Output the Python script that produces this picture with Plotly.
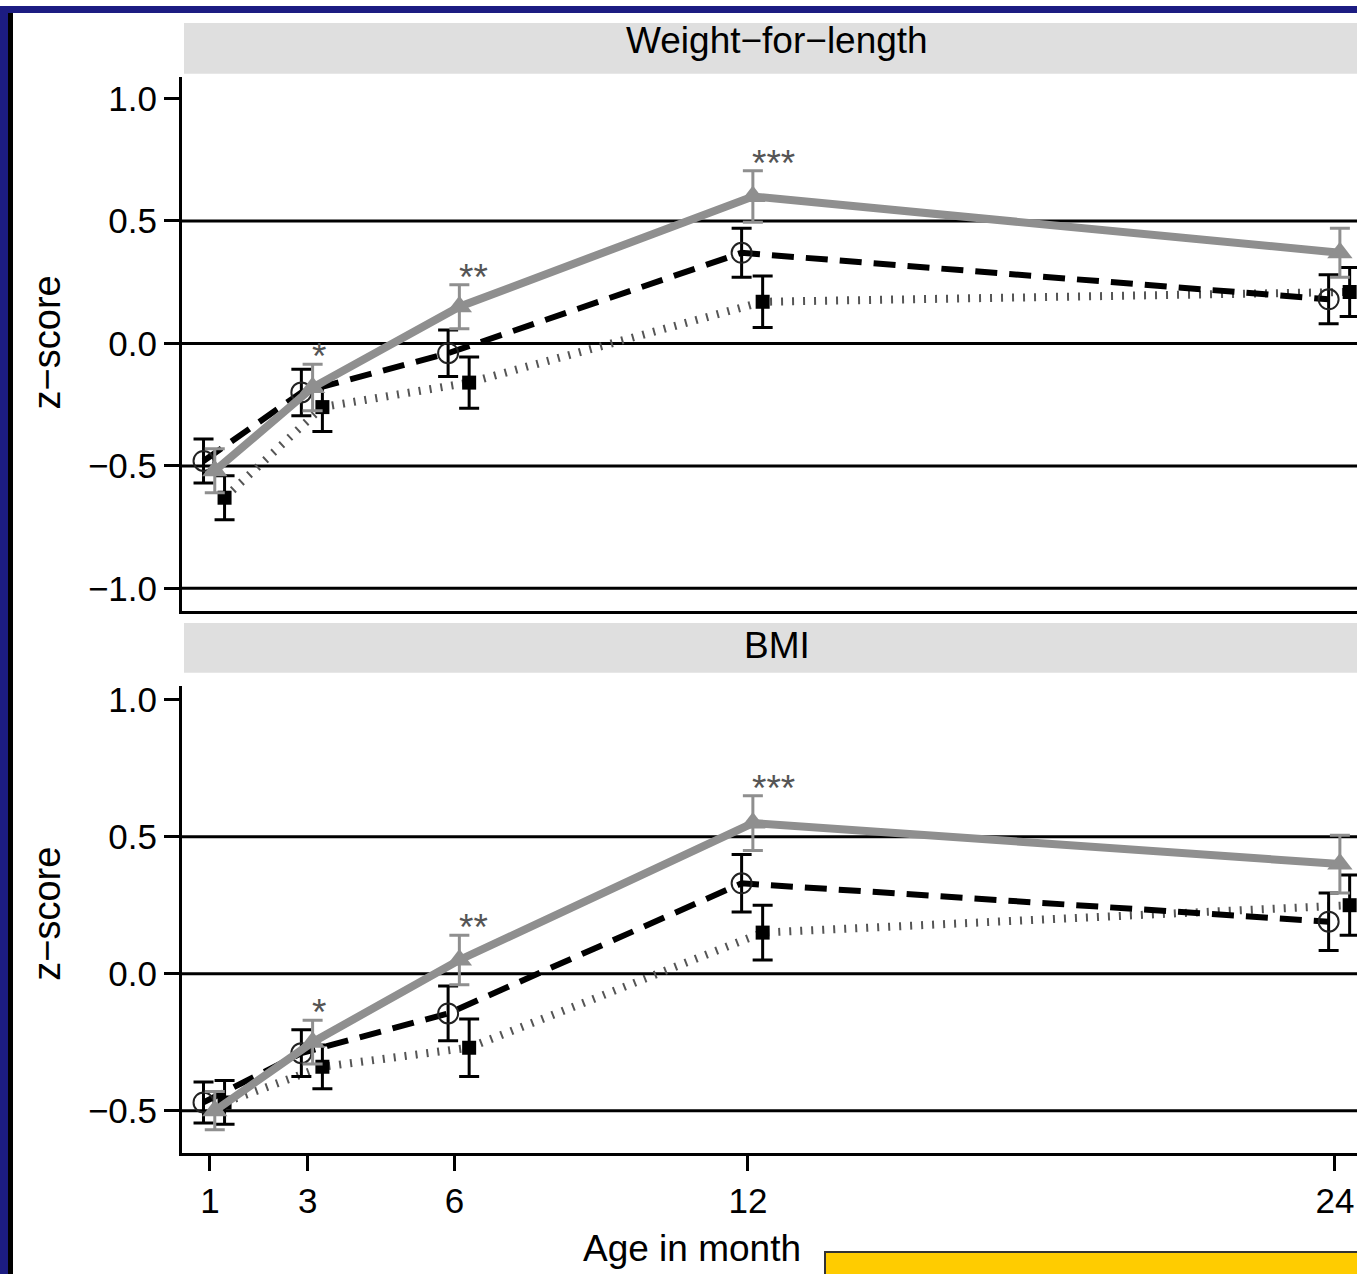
import plotly.graph_objects as go

W, H = 1357, 1274

# ---------------- data ----------------
ages = [1, 3, 6, 12, 24]
age_ticks = [1, 3, 6, 12, 24]

# Weight-for-length panel
wfl_a_mean = [-0.48, -0.20, -0.04, 0.37, 0.18]
wfl_a_se = [0.09, 0.095, 0.095, 0.10, 0.10]
wfl_b_mean = [-0.63, -0.26, -0.16, 0.17, 0.21]
wfl_b_se = [0.09, 0.10, 0.105, 0.105, 0.10]
wfl_c_mean = [-0.52, -0.18, 0.15, 0.60, 0.37]
wfl_c_se = [0.09, 0.095, 0.09, 0.105, 0.10]
wfl_stars = ["", "*", "**", "***", ""]

# BMI panel
bmi_a_mean = [-0.47, -0.29, -0.145, 0.33, 0.19]
bmi_a_se = [0.075, 0.085, 0.10, 0.105, 0.105]
bmi_b_mean = [-0.47, -0.34, -0.27, 0.15, 0.25]
bmi_b_se = [0.08, 0.08, 0.105, 0.10, 0.11]
bmi_c_mean = [-0.50, -0.25, 0.05, 0.55, 0.40]
bmi_c_se = [0.07, 0.08, 0.09, 0.10, 0.105]
bmi_stars = ["", "*", "**", "***", ""]

panel_titles = ["Weight\u2212for\u2212length", "BMI"]
wfl_yticks = [1.0, 0.5, 0.0, -0.5, -1.0]
bmi_yticks = [1.0, 0.5, 0.0, -0.5]
wfl_reflines = [0.5, 0.0, -0.5, -1.0]
bmi_reflines = [0.5, 0.0, -0.5]

# ---------------- style ----------------
FONT = "Liberation Sans, Arial, Helvetica, sans-serif"
OFF_A, OFF_B, OFF_C = -0.13, 0.30, 0.10
GRAY = "#8f8f8f"


def px(x):
    return x / W


def py(y):
    return 1 - y / H


fig = go.Figure()


def add_panel(a_m, a_se, b_m, b_se, c_m, c_se, stars, xa, ya):
    # dotted series (filled squares)
    fig.add_trace(go.Scatter(
        x=[a + OFF_B for a in ages], y=b_m, xaxis=xa, yaxis=ya,
        mode="lines+markers",
        line=dict(color="#555555", width=8, dash="2px,9px"),
        marker=dict(symbol="square", size=14, color="black"),
        error_y=dict(type="data", array=b_se, visible=True, color="black",
                     thickness=3, width=10),
        showlegend=False))
    # dashed series (open circles)
    fig.add_trace(go.Scatter(
        x=[a + OFF_A for a in ages], y=a_m, xaxis=xa, yaxis=ya,
        mode="lines+markers",
        line=dict(color="black", width=6, dash="22px,12px"),
        marker=dict(symbol="circle-open", size=20, color="#222222",
                    line=dict(width=2)),
        error_y=dict(type="data", array=a_se, visible=True, color="black",
                     thickness=3, width=10),
        showlegend=False))
    # solid gray series (triangles)
    fig.add_trace(go.Scatter(
        x=[a + OFF_C for a in ages], y=c_m, xaxis=xa, yaxis=ya,
        mode="lines+markers",
        line=dict(color=GRAY, width=8),
        marker=dict(symbol="triangle-up", size=22, color=GRAY),
        error_y=dict(type="data", array=c_se, visible=True, color=GRAY,
                     thickness=3, width=10),
        showlegend=False))
    for a, m, s, st in zip(ages, c_m, c_se, stars):
        if st:
            fig.add_annotation(
                x=a + OFF_C - 0.05, y=m + s, xref=xa, yref=ya,
                text=st, showarrow=False, xanchor="left", yanchor="bottom",
                yshift=-15,
                font=dict(family=FONT, size=37, color="#555555"))


add_panel(wfl_a_mean, wfl_a_se, wfl_b_mean, wfl_b_se, wfl_c_mean, wfl_c_se,
          wfl_stars, "x", "y")
add_panel(bmi_a_mean, bmi_a_se, bmi_b_mean, bmi_b_se, bmi_c_mean, bmi_c_se,
          bmi_stars, "x2", "y2")

xdom = [px(182), 1.0]
xrange = [0.43, 24.45]
axis_common = dict(showgrid=False, zeroline=False, showline=True,
                   linecolor="black", linewidth=3)

fig.update_layout(
    width=W, height=H,
    margin=dict(l=0, r=0, t=0, b=0),
    paper_bgcolor="white", plot_bgcolor="white",
    font=dict(family=FONT, color="black"),
    xaxis=dict(domain=xdom, range=xrange, anchor="y", showticklabels=False,
               ticks="", **axis_common),
    yaxis=dict(domain=[py(608), py(71)], range=[-1.093, 1.089], anchor="x",
               tickvals=wfl_yticks, tickformat=".1f", ticks="outside",
               ticklen=15, tickwidth=3, tickcolor="black",
               tickfont=dict(size=35, family=FONT, color="black"),
               **axis_common),
    xaxis2=dict(domain=xdom, range=xrange, anchor="y2", tickvals=age_ticks,
                ticks="outside", ticklen=15, tickwidth=3, tickcolor="black",
                tickfont=dict(size=35, family=FONT, color="black"),
                **axis_common),
    yaxis2=dict(domain=[py(1152), py(683)], range=[-0.653, 1.051],
                anchor="x2", tickvals=bmi_yticks, tickformat=".1f",
                ticks="outside", ticklen=15, tickwidth=3, tickcolor="black",
                tickfont=dict(size=35, family=FONT, color="black"),
                **axis_common),
)

shapes = []
# reference lines
for v in wfl_reflines:
    shapes.append(dict(type="line", xref="x domain", yref="y", x0=0, x1=1,
                       y0=v, y1=v, line=dict(color="black", width=3),
                       layer="below"))
for v in bmi_reflines:
    shapes.append(dict(type="line", xref="x2 domain", yref="y2", x0=0, x1=1,
                       y0=v, y1=v, line=dict(color="black", width=3),
                       layer="below"))
# strip headers
for (y0, y1) in [(17, 68), (620, 670)]:
    shapes.append(dict(type="rect", xref="paper", yref="paper",
                       x0=px(184), x1=1.0, y0=py(y1), y1=py(y0),
                       fillcolor="#dfdfdf", line=dict(width=0), layer="below"))
# slide frame
shapes.append(dict(type="rect", xref="paper", yref="paper", x0=0, x1=px(8),
                   y0=0, y1=1, fillcolor="#1c1c82", line=dict(width=0)))
shapes.append(dict(type="rect", xref="paper", yref="paper", x0=0, x1=1,
                   y0=py(7), y1=1, fillcolor="#1c1c82", line=dict(width=0)))
shapes.append(dict(type="rect", xref="paper", yref="paper", x0=px(8),
                   x1=px(13), y0=0, y1=py(7), fillcolor="black",
                   line=dict(width=0)))
# yellow box bottom right
shapes.append(dict(type="rect", xref="paper", yref="paper", x0=px(825),
                   x1=1.01, y0=-0.01, y1=py(1252), fillcolor="#ffcc00",
                   line=dict(color="#333333", width=2)))
fig.update_layout(shapes=shapes)

# strip titles
for title, yc in zip(panel_titles, [35, 643]):
    fig.add_annotation(x=px(777), y=py(yc), xref="paper", yref="paper",
                       text=title, showarrow=False, xanchor="center",
                       yanchor="middle",
                       font=dict(family=FONT, size=37, color="black"))
# y axis titles
for yc in [338, 912]:
    fig.add_annotation(x=px(47), y=py(yc), xref="paper", yref="paper",
                       text="z\u2212score", showarrow=False, textangle=-90,
                       xanchor="center", yanchor="middle",
                       font=dict(family=FONT, size=38, color="black"))
# x axis title
fig.add_annotation(x=px(692), y=py(1248), xref="paper", yref="paper",
                   text="Age in month", showarrow=False, xanchor="center",
                   yanchor="middle",
                   font=dict(family=FONT, size=37, color="black"))

fig.write_html(
    "out.html",
    config={"displayModeBar": False},
    post_script="document.body.style.margin='0';document.body.style.padding='0';document.body.style.overflow='hidden';",
)
